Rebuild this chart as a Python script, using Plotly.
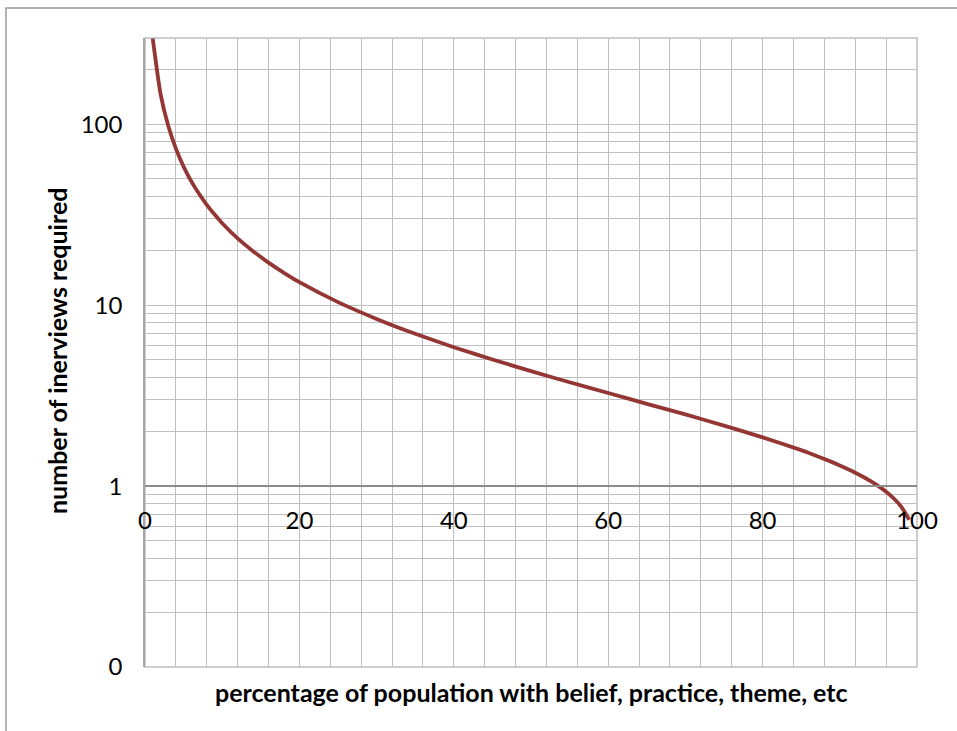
import plotly.graph_objects as go

# Share of the population holding a belief / practice / theme (%)
percent = [1, 2, 3, 4, 5, 6, 7, 8, 9, 10, 12, 14, 16, 18, 20, 25, 30, 35, 40,
           45, 50, 55, 60, 65, 70, 75, 80, 85, 86, 87, 88, 89, 90, 91, 92,
           93, 94, 95, 96, 97, 98, 99]
# Number of interviews required to encounter it
interviews = [298.1, 148.3, 98.4, 73.4, 58.4, 48.4, 41.3, 35.9, 31.8, 28.4,
              23.4, 19.9, 17.2, 15.1, 13.4, 10.4, 8.40, 6.95, 5.86, 5.01,
              4.32, 3.75, 3.27, 2.85, 2.49, 2.16, 1.86, 1.58, 1.524, 1.468,
              1.413, 1.357, 1.301, 1.244, 1.186, 1.127, 1.065, 1.000, 0.931,
              0.854, 0.766, 0.651]

x_major = [0, 20, 40, 60, 80, 100]
x_minor = list(range(0, 101, 4))
y_major = [0.1, 1, 10, 100]
y_major_text = ["0", "1", "10", "100"]
y_minor = [0.2, 0.3, 0.4, 0.5, 0.6, 0.7, 0.8, 0.9,
           2, 3, 4, 5, 6, 7, 8, 9,
           20, 30, 40, 50, 60, 70, 80, 90,
           200, 300]

x_title = "percentage of population with belief, practice, theme, etc"
y_title = "number of inerviews required"

GRID = "#bfbfbf"
FONT = "Lato"

fig = go.Figure()
fig.add_trace(go.Scatter(
    x=percent, y=interviews, mode="lines",
    line=dict(color="#943634", width=3.8, shape="spline", smoothing=0.5),
    showlegend=False, hoverinfo="x+y",
))

W, H = 957, 731
ml, mr, mt, mb = 145, 40, 38, 64
ymin_log, ymax_log = -1, 2.4771  # 0.1 .. 300

fig.update_layout(
    width=W, height=H,
    margin=dict(l=ml, r=mr, t=mt, b=mb, pad=0),
    paper_bgcolor="white", plot_bgcolor="white",
    font=dict(family=FONT, size=24, color="#000000"),
)

# horizontal axis crosses the vertical one at 1
cross = (0 - ymin_log) / (ymax_log - ymin_log)

fig.update_xaxes(
    range=[0, 100],
    tickmode="array", tickvals=x_major, ticktext=[str(v) for v in x_major],
    showgrid=True, gridcolor=GRID, gridwidth=1,
    minor=dict(tickmode="array", tickvals=x_minor, showgrid=True,
               gridcolor=GRID, gridwidth=1),
    anchor="free", position=cross,
    showline=True, linecolor="#8c8c8c", linewidth=1.5,
    ticks="", ticklabelstandoff=13,
    zeroline=False,
)
fig.update_yaxes(
    type="log", range=[ymin_log, ymax_log],
    tickmode="array", tickvals=y_major, ticktext=y_major_text,
    showgrid=True, gridcolor=GRID, gridwidth=1,
    minor=dict(tickmode="array", tickvals=y_minor, showgrid=True,
               gridcolor=GRID, gridwidth=1),
    showline=True, linecolor="#a6a6a6", linewidth=1.5,
    ticks="", ticklabelstandoff=16,
    zeroline=False,
)

pw = W - ml - mr
ph = H - mt - mb


def px_x(p):
    return (p - ml) / pw


def px_y(p):
    return (H - mb - p) / ph


fig.update_layout(
    shapes=[
        # plot frame
        dict(type="rect", xref="paper", yref="paper", x0=0, x1=1, y0=0, y1=1,
             line=dict(color=GRID, width=1.5), layer="below"),
        # chart border
        dict(type="rect", xref="paper", yref="paper",
             x0=px_x(6), x1=px_x(W + 10), y0=px_y(H + 10), y1=px_y(8),
             line=dict(color="#9a9a9a", width=1.5), layer="below"),
    ],
    annotations=[
        dict(text=f"<b>{x_title}</b>", xref="paper", yref="paper",
             x=px_x(531), y=px_y(692), showarrow=False,
             xanchor="center", yanchor="middle",
             font=dict(family=FONT, size=25, color="#000000")),
        dict(text=f"<b>{y_title}</b>", xref="paper", yref="paper",
             x=px_x(57), y=px_y(351), showarrow=False, textangle=-90,
             xanchor="center", yanchor="middle",
             font=dict(family=FONT, size=25, color="#000000")),
    ],
)

fig.write_html("out.html")
